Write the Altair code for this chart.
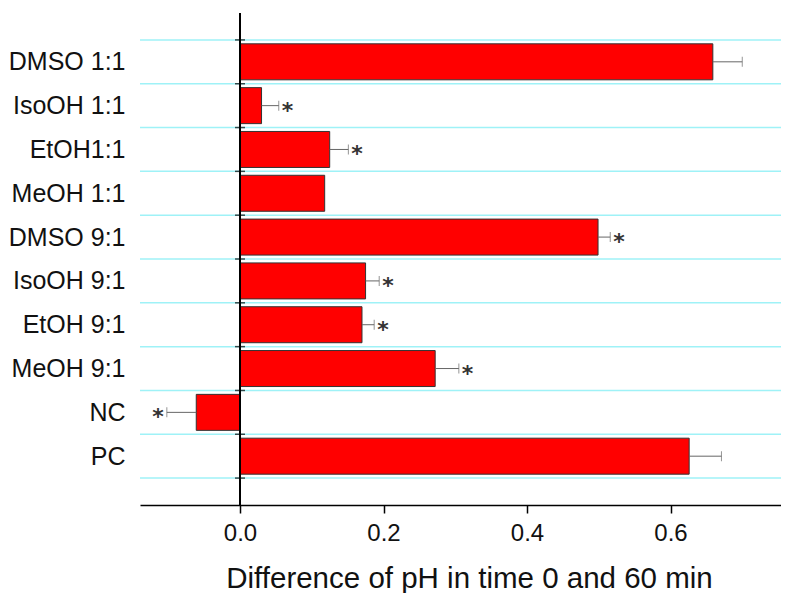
import json
import altair as alt
import numpy as np
import pandas as pd

categories = ["DMSO 1:1", "IsoOH 1:1", "EtOH1:1", "MeOH 1:1", "DMSO 9:1",
              "IsoOH 9:1", "EtOH 9:1", "MeOH 9:1", "NC", "PC"]
values = [0.659, 0.030, 0.125, 0.118, 0.499, 0.175, 0.170, 0.272, -0.061, 0.626]
errors = [0.041, 0.024, 0.026, 0.0, 0.017, 0.019, 0.017, 0.033, 0.041, 0.045]
significant = [False, True, True, False, True, True, True, True, True, False]
x_ticks = [0.0, 0.2, 0.4, 0.6]
x_title = "Difference of pH in time 0 and 60 min"

n = len(categories)
df = pd.DataFrame({
    "idx": np.arange(1, n + 1),
    "cat": categories,
    "value": values,
    "err": errors,
    "sig": significant,
})
df["end"] = df["value"] + np.sign(df["value"]) * df["err"]
err_df = df[df["err"] > 0]
star_pos = df[(df["sig"]) & (df["value"] > 0)]
star_neg = df[(df["sig"]) & (df["value"] < 0)]
grid_df = pd.DataFrame({"g": np.arange(n + 1) + 0.5})

FONT = "Liberation Sans"
label_expr = "%s[datum.value] || ''" % json.dumps([""] + categories)

xs = alt.Scale(domain=[-0.1394, 0.754], nice=False, zero=False)
ys = alt.Scale(domain=[0, n + 1], reverse=True, nice=False, zero=False)

x_axis = alt.Axis(
    values=x_ticks, format=".1f", title=x_title, grid=False,
    domainColor="#000", domainWidth=1.5, tickColor="#000", tickWidth=1.5,
    tickSize=8, labelFont=FONT, labelFontSize=24, labelColor="#111",
    labelPadding=8, titleFont=FONT, titleFontSize=29.5, titleFontWeight="normal",
    titleColor="#111", titleX=329, titleY=82, titleBaseline="alphabetic",
    titleAnchor="middle", labelFlush=False,
)
y_axis = alt.Axis(
    values=list(range(1, n + 1)), labelExpr=label_expr, domain=False,
    ticks=False, grid=False, title=None, labelFont=FONT, labelFontSize=25,
    labelColor="#111", labelPadding=15,
)

def X(field):
    return alt.X(field, type="quantitative", scale=xs, axis=x_axis)

def Y(field):
    return alt.Y(field, type="quantitative", scale=ys, axis=y_axis)

grid = alt.Chart(grid_df).mark_rule(color="#9FF2F7", strokeWidth=1.5).encode(y=Y("g"))

zero_line = alt.Chart(grid_df).mark_rule(color="#000", strokeWidth=1.5).encode(
    x=alt.X(datum=0, type="quantitative", scale=xs, axis=x_axis)
)

zero_ticks = alt.Chart(grid_df).mark_tick(
    orient="horizontal", color="#000", size=10, thickness=1.5
).encode(
    x=alt.X(datum=0, type="quantitative", scale=xs, axis=x_axis),
    y=Y("g"),
)

bars = alt.Chart(df).mark_bar(
    orient="horizontal", color="#FF0000", stroke="#333", strokeWidth=1, size=36
).encode(
    x=X("value"),
    x2=alt.X2(datum=0),
    y=Y("idx"),
)

err_rule = alt.Chart(err_df).mark_rule(color="#666", strokeWidth=1).encode(
    x=X("value"), x2="end", y=Y("idx")
)
err_cap = alt.Chart(err_df).mark_tick(
    orient="vertical", color="#666", size=10, thickness=1
).encode(x=X("end"), y=Y("idx"))

stars_r = alt.Chart(star_pos).mark_text(
    text="*", font="DejaVu Sans", fontSize=22, fontWeight="bold", color="#333",
    align="left", baseline="middle", dx=3, dy=5
).encode(x=X("end"), y=Y("idx"))
stars_l = alt.Chart(star_neg).mark_text(
    text="*", font="DejaVu Sans", fontSize=22, fontWeight="bold", color="#333",
    align="right", baseline="middle", dx=-3, dy=5
).encode(x=X("end"), y=Y("idx"))

chart = alt.layer(
    grid, bars, err_rule, err_cap, stars_r, stars_l, zero_line, zero_ticks
).properties(
    width=641, height=492,
    autosize=alt.AutoSizeParams(type="none"),
    padding={"left": 132, "top": 5, "right": 0, "bottom": 88},
).configure_view(stroke=None)

chart.save("out.html", embed_options={"renderer": "svg", "actions": False})
